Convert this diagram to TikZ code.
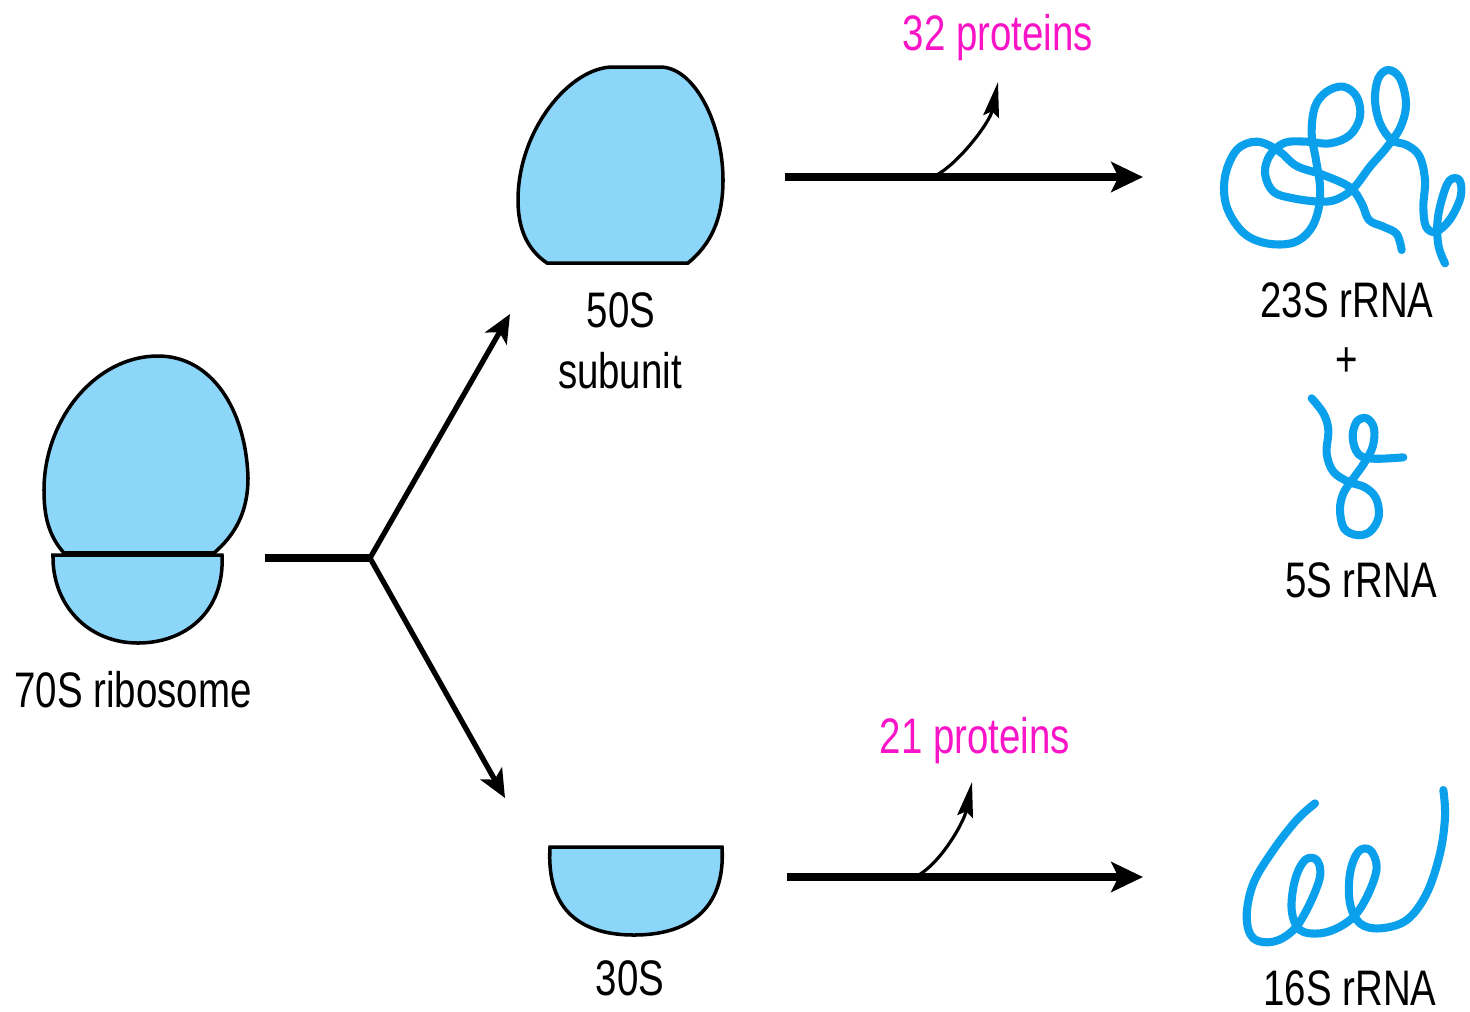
\documentclass[tikz,border=0pt]{standalone}
\usepackage{fontspec}
\setmainfont[FakeStretch=0.77]{Liberation Sans}
\usetikzlibrary{arrows.meta,positioning}

\definecolor{subblue}{RGB}{140,214,250}
\definecolor{rnablue}{RGB}{10,160,235}
\definecolor{protpink}{RGB}{250,20,200}

\begin{document}
\begin{tikzpicture}[x=0.01cm, y=-0.01cm,
    lbl/.style={font=\fontsize{14.2}{17}\selectfont, inner sep=0pt, anchor=base},
    prot/.style={lbl, text=protpink},
    sub/.style={fill=subblue, draw=black, line width=1pt},
    fwd/.style={line width=2.2pt, -{Stealth[length=9pt, width=8.5pt, inset=2pt]}},
    fork/.style={line width=1.5pt, -{Stealth[length=8pt, width=7pt, inset=2pt]}},
    off/.style={line width=0.9pt, -{Stealth[length=10pt, width=4.5pt, inset=1.5pt]}},
    rna/.style={rnablue, line width=2.3pt, line cap=round, line join=round}]

    \useasboundingbox (0,0) rectangle (1470,1011);

    % 70S ribosome
    \draw[sub] (64,553) .. controls (48,535) and (44,515) .. (44,490)
        .. controls (44,420) and (95,356) .. (158,356)
        .. controls (212,356) and (246,410) .. (248,478)
        .. controls (248,512) and (235,535) .. (214,553) -- cycle;
    \draw[sub] (53,555) -- (222,555) .. controls (225,612) and (185,643) .. (138,643)
        .. controls (88,643) and (52,605) .. (53,555) -- cycle;
    \draw[line width=1.8pt] (62,554) -- (215,554);

    % 50S and 30S subunits
    \draw[sub] (613,67) -- (660,67) .. controls (695,67) and (723,125) .. (723,180)
        .. controls (723,220) and (710,245) .. (688,263) -- (547,263)
        .. controls (528,250) and (518,230) .. (518,200)
        .. controls (518,130) and (570,67) .. (613,67) -- cycle;
    \draw[sub] (550,847) -- (722,847) .. controls (726,912) and (685,935) .. (634,935)
        .. controls (583,935) and (546,912) .. (550,847) -- cycle;

    % Labels
    \node[lbl] (l70) at (133,707) {70S ribosome};
    \node[lbl] (l50) at (621,327) {50S};
    \node[lbl] (l50b) at (620,388) {subunit};
    \node[lbl] (l30) at (630,995) {30S};
    \node[prot] (p32) at (998,50) {32 proteins};
    \node[prot] (p21) at (975,753) {21 proteins};
    \node[lbl] (r23) at (1347,317) {23S rRNA};
    \node[lbl, anchor=center] (plus) at (1347,362) {+};
    \node[lbl] (r5) at (1361,597) {5S rRNA};
    \node[lbl] (r16) at (1350,1005) {16S rRNA};

    % Dissociation
    \coordinate (stem) at (265,558);
    \coordinate (split) at (370,558);
    \coordinate (to50) at (510,314);
    \coordinate (to30) at (505,798);
    \draw[line width=2.3pt] (stem) -- (split);
    \draw[fork] (split) -- (to50);
    \draw[fork] (split) -- (to30);

    % 50S -> rRNA, proteins leave
    \coordinate (s50) at (785,177);
    \coordinate (e50) at (1143,177);
    \coordinate (b50) at (933,177);
    \coordinate (t50) at (998,82);
    \draw[fwd] (s50) -- (e50);
    \draw[off] (b50) .. controls +(25,-12) and +(-8,40) .. (t50);

    % 30S -> rRNA
    \coordinate (s30) at (787,877);
    \coordinate (e30) at (1143,877);
    \coordinate (b30) at (915,877);
    \coordinate (t30) at (972,782);
    \draw[fwd] (s30) -- (e30);
    \draw[off] (b30) .. controls +(25,-12) and +(-8,40) .. (t30);

    % 23S rRNA
    \begin{scope}[shift={(1210,60)}, scale=1/3]
        \draw[rna] plot[smooth, tension=0.6] coordinates {(575,570) (560,522) (520,500)
            (477,480) (455,430) (420,382) (340,345) (260,318) (205,272) (140,245) (80,270)
            (45,350) (50,440) (100,518) (170,550) (250,548) (300,510) (325,450) (330,380)
            (318,300) (305,220) (315,140) (350,95) (400,80) (440,110) (450,170) (420,225)
            (360,250) (290,245) (225,248) (180,285) (165,340) (190,395) (250,415) (330,425)
            (380,418) (430,385) (480,320) (530,262) (572,200) (588,130) (570,55) (535,30)
            (505,55) (495,120) (510,190) (545,240) (590,255) (628,288) (645,360) (640,440)
            (648,500) (678,515) (720,478) (752,410) (748,360) (718,362) (695,420) (682,490)
            (686,560) (705,610)};
    \end{scope}

    % 5S rRNA
    \begin{scope}[shift={(1260,330)}, scale=1/3]
        \draw[rna] plot[smooth, tension=0.6] coordinates {(155,205) (190,250) (205,300)
            (200,370) (220,425) (265,455) (315,472) (348,505) (356,560) (330,605) (290,615)
            (252,595) (240,540) (250,490) (280,445) (312,400) (338,350) (342,295) (320,265)
            (290,275) (278,322) (295,372) (340,386) (430,382)};
    \end{scope}

    % 16S rRNA
    \begin{scope}[shift={(1220,780)}, scale=1/3]
        \draw[rna] plot[smooth, tension=0.6] coordinates {(285,70) (230,120) (160,210)
            (100,310) (80,410) (100,475) (160,485) (220,450) (265,380) (300,290) (290,240)
            (255,240) (225,300) (215,390) (240,450) (300,460) (360,440) (410,400) (450,330)
            (470,260) (450,210) (415,215) (390,280) (390,370) (420,430) (480,445) (560,420)
            (620,340) (660,220) (675,110) (670,30)};
    \end{scope}
\end{tikzpicture}
\end{document}
